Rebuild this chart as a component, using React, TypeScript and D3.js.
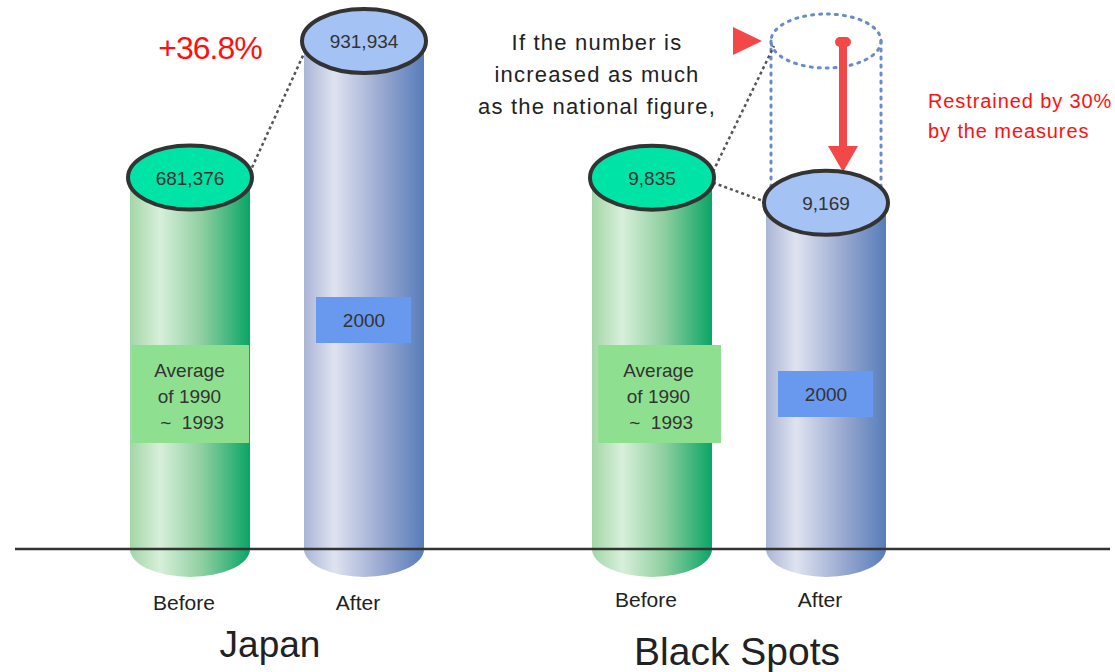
import React from "react";
import * as d3 from "d3";

const groups = ["Japan", "Black Spots"];
const phases = ["Before", "After"];
const japanValues = [681376, 931934];
const blackSpotValues = [9835, 9169];
const blackSpotProjected = 13454; // if increased as much as the national figure (+36.8%)
const periodLabels = [["Average", "of 1990", " ~  1993"], ["2000"]];
const japanChange = "+36.8%";
const noteLines = ["If the number is", "increased as much", "as the national figure,"];
const restrainLines = ["Restrained by 30%", "by the measures"];

const W = 1115;
const H = 672;
const baseY = 549;
const topY = 41;
const rx = 60;
const ry = 32;
const font = "'Liberation Sans', Arial, sans-serif";

export default function App() {
  const gx = d3.scalePoint<string>().domain(groups).range([277, 739]);
  const px = d3.scalePoint<string>().domain(phases).range([-87, 87]);
  const yJapan = d3.scaleLinear().domain([0, d3.max(japanValues)!]).range([baseY, topY]);
  const yBS = d3.scaleLinear().domain([0, blackSpotProjected]).range([baseY, topY]);
  const fmt = d3.format(",");

  const bars = [
    ...japanValues.map((v, i) => ({ g: groups[0], p: phases[i], v, y: yJapan(v), i })),
    ...blackSpotValues.map((v, i) => ({ g: groups[1], p: phases[i], v, y: yBS(v), i })),
  ].map((b) => ({ ...b, cx: gx(b.g)! + px(b.p)! }));

  const ghostCx = bars[3].cx;
  const ghostY = yBS(blackSpotProjected);

  return (
    <svg width={W} height={H} style={{ position: "absolute", left: 0, top: 0, background: "#fff" }} fontFamily={font}>
      <defs>
        <linearGradient id="gGreen" x1="0" x2="1" y1="0" y2="0">
          <stop offset="0" stopColor="#a3d6a6" />
          <stop offset="0.25" stopColor="#d8efda" />
          <stop offset="0.6" stopColor="#8fcfa0" />
          <stop offset="1" stopColor="#0aa565" />
        </linearGradient>
        <linearGradient id="gBlue" x1="0" x2="1" y1="0" y2="0">
          <stop offset="0" stopColor="#aab5d6" />
          <stop offset="0.25" stopColor="#dfe3f0" />
          <stop offset="0.65" stopColor="#98a8d0" />
          <stop offset="1" stopColor="#577dbb" />
        </linearGradient>
      </defs>

      {/* cylinders */}
      {bars.map((b, k) => {
        const isBefore = b.i === 0;
        const path = `M${b.cx - rx},${b.y} L${b.cx - rx},${baseY} A${rx},${ry - 4} 0 0 0 ${b.cx + rx},${baseY} L${b.cx + rx},${b.y} Z`;
        return <path key={"c" + k} d={path} fill={isBefore ? "url(#gGreen)" : "url(#gBlue)"} />;
      })}

      {/* baseline */}
      <line x1={15} x2={1110} y1={baseY} y2={baseY} stroke="#333" strokeWidth={2.5} />

      {/* ghost dotted cylinder */}
      <g stroke="#6a8bc9" strokeWidth={3} strokeDasharray="2,6" strokeLinecap="round" fill="none">
        <ellipse cx={ghostCx} cy={ghostY} rx={rx - 5} ry={ry - 5} />
        <line x1={ghostCx - rx + 5} x2={ghostCx - rx + 5} y1={ghostY} y2={bars[3].y - 5} />
        <line x1={ghostCx + rx - 5} x2={ghostCx + rx - 5} y1={ghostY} y2={bars[3].y - 5} />
      </g>

      {/* dashed connectors */}
      <g stroke="#555" strokeWidth={2.5} strokeDasharray="3,3" fill="none">
        <line x1={bars[0].cx + rx + 2} y1={bars[0].y - 10} x2={bars[1].cx - rx + 2} y2={bars[1].y + 8} />
        <line x1={bars[2].cx + rx + 1} y1={bars[2].y - 6} x2={ghostCx - rx + 8} y2={ghostY + 5} />
        <line x1={bars[2].cx + rx + 1} y1={bars[2].y + 5} x2={bars[3].cx - rx + 2} y2={bars[3].y} />
      </g>

      {/* red arrow */}
      <g fill="#f24848" stroke="none">
        <rect x={ghostCx + 17 - 4} y={ghostY} width={8} height={110} />
        <rect x={ghostCx + 17 - 8} y={ghostY - 4} width={16} height={10} rx={5} />
        <polygon points={`${ghostCx + 2},${146} ${ghostCx + 32},${146} ${ghostCx + 17},${172}`} />
        <polygon points={`733,27 762,41 733,55`} />
      </g>

      {/* top ellipses with value labels */}
      {bars.map((b, k) => (
        <g key={"t" + k}>
          <ellipse cx={b.cx} cy={b.y} rx={rx + 2} ry={ry} fill={b.i === 0 ? "#00e3a6" : "#a4c2f4"} stroke="#333" strokeWidth={4} />
          <text x={b.cx} y={b.y + 7} textAnchor="middle" fontSize={19} fill="#333">{fmt(b.v)}</text>
        </g>
      ))}

      {/* period boxes */}
      {bars.map((b, k) => {
        const isBefore = b.i === 0;
        if (isBefore) {
          const bw = b.g === groups[0] ? 117 : 123;
          const x0 = b.g === groups[0] ? b.cx - 58 : b.cx - 54;
          return (
            <g key={"p" + k}>
              <rect x={x0} y={345} width={bw} height={98} fill="#8ee090" />
              {periodLabels[0].map((t, j) => (
                <text key={j} x={x0 + bw / 2 - 1} y={377 + j * 26} textAnchor="middle" fontSize={19} fill="#333" style={{ whiteSpace: "pre" }}>{t}</text>
              ))}
            </g>
          );
        }
        const y0 = b.g === groups[0] ? 297 : 371;
        return (
          <g key={"p" + k}>
            <rect x={b.cx - 48} y={y0} width={95} height={46} fill="#6899ee" />
            <text x={b.cx} y={y0 + 30} textAnchor="middle" fontSize={19} fill="#333">{periodLabels[1][0]}</text>
          </g>
        );
      })}

      {/* annotations */}
      <text x={210} y={59} textAnchor="middle" fontSize={32} fill="#ff1010" letterSpacing={-1}>{japanChange}</text>
      {noteLines.map((t, j) => (
        <text key={j} x={597} y={50 + j * 32} textAnchor="middle" fontSize={22} fill="#222" letterSpacing={1.2}>{t}</text>
      ))}
      {restrainLines.map((t, j) => (
        <text key={j} x={928} y={108 + j * 30} fontSize={20} fill="#ff1010" letterSpacing={0.9}>{t}</text>
      ))}

      {/* category labels */}
      {bars.map((b, k) => (
        <text key={"l" + k} x={b.cx - 6} y={b.g === groups[0] ? 610 : 607} textAnchor="middle" fontSize={21} fill="#222">{b.p}</text>
      ))}
      {groups.map((g, k) => (
        <text key={g} x={gx(g)! - (k === 0 ? 7 : 2)} y={k === 0 ? 657 : 665} textAnchor="middle" fontSize={k === 0 ? 37 : 39} fill="#222">{g}</text>
      ))}
    </svg>
  );
}
